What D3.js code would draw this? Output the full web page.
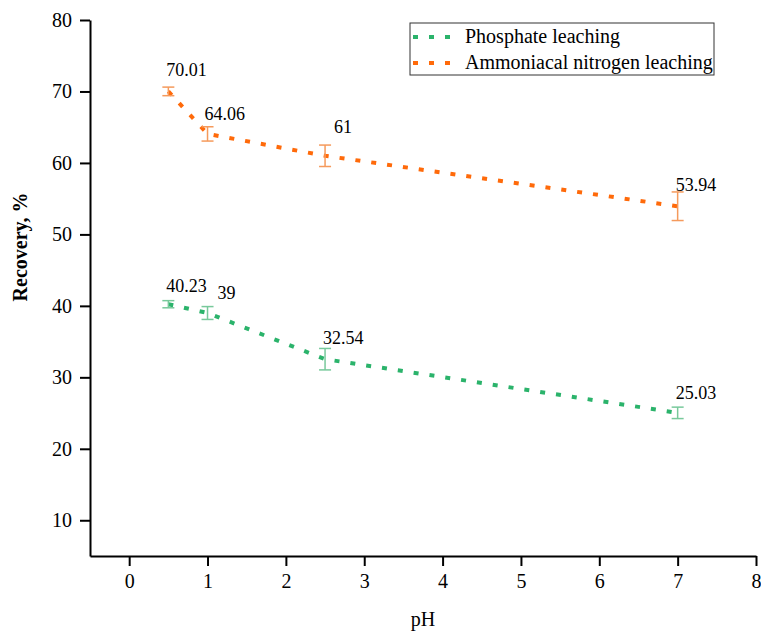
<!DOCTYPE html>
<html>
<head>
<meta charset="utf-8">
<script src="https://cdn.jsdelivr.net/npm/d3@7"></script>
<style>
  html, body { margin: 0; padding: 0; background: #fff; }
  svg, svg text { font-family: "Liberation Serif", "Times New Roman", "DejaVu Serif", serif !important; }
  svg { display: block; }
</style>
</head>
<body>
<svg id="chart" width="761" height="633"></svg>
<script>
// pH values of the leaching runs
const phValues = [0.5, 1, 2.5, 7];

// Recovery (%) for each series, with standard deviations
const phosphate = [40.23, 39, 32.54, 25.03];
const phosphateErr = [0.5, 0.9, 1.5, 0.8];
const ammonia = [70.01, 64.06, 61, 53.94];
const ammoniaErr = [0.6, 1.0, 1.5, 2.0];

const seriesNames = ["Phosphate leaching", "Ammoniacal nitrogen leaching"];

// Axis ticks
const xTicks = [0, 1, 2, 3, 4, 5, 6, 7, 8];
const yTicks = [10, 20, 30, 40, 50, 60, 70, 80];

const svg = d3.select("#chart");
const plotLeft = 90, plotRight = 756, plotTop = 20, plotBottom = 556;

const x = d3.scaleLinear().domain([-0.5, 8]).range([plotLeft, plotRight]);
const y = d3.scaleLinear().domain([5, 80]).range([plotBottom, plotTop]);

const series = [
  { name: seriesNames[0], values: phosphate, err: phosphateErr, color: "#2bb36b", barColor: "#78c99b",
    labelDx: [-2, 10, -2, -2], labelDy: [-12, -14, -15, -14] },
  { name: seriesNames[1], values: ammonia, err: ammoniaErr, color: "#ff6a0a", barColor: "#f59a5c",
    labelDx: [-2, -3, 9, -2], labelDy: [-15, -14, -23, -15] }
];

// Axes with major and minor ticks
const axisColor = "#000";
function minorAxis(axisGen, ticks) {
  return axisGen.tickValues(ticks).tickSize(5).tickFormat("");
}
const xMinor = d3.range(-0.5, 8.01, 0.5);
const yMinor = d3.range(5, 80.01, 5);

const gx = svg.append("g").attr("transform", `translate(0,${plotBottom})`);
gx.call(minorAxis(d3.axisBottom(x), xMinor));
gx.call(d3.axisBottom(x).tickValues(xTicks).tickSize(10).tickSizeOuter(0).tickPadding(8).tickFormat(d3.format("d")));

const gy = svg.append("g").attr("transform", `translate(${plotLeft},0)`);
gy.call(minorAxis(d3.axisLeft(y), yMinor));
gy.call(d3.axisLeft(y).tickValues(yTicks).tickSize(10).tickSizeOuter(0).tickPadding(8).tickFormat(d3.format("d")));

svg.selectAll("g").attr("font-family", null);
svg.selectAll(".domain").attr("stroke", axisColor).attr("stroke-width", 2);
svg.selectAll(".tick line").attr("stroke", axisColor).attr("stroke-width", 2);
svg.selectAll(".tick text").attr("font-size", 20).attr("fill", "#000");

// Axis titles
svg.append("text").attr("x", 423).attr("y", 626).attr("text-anchor", "middle")
  .attr("font-size", 20).text("pH");
svg.append("text").attr("transform", "translate(27,247) rotate(-90)")
  .attr("text-anchor", "middle").attr("font-size", 20).attr("font-weight", "bold")
  .text("Recovery, %");

// Series: dotted connecting lines, error bars, value labels
const line = d3.line()
  .x((d, i) => x(phValues[i])).y(d => y(d));

series.forEach(s => {
  const g = svg.append("g");
  g.append("path").datum(s.values).attr("d", line)
    .attr("fill", "none").attr("stroke", s.color).attr("stroke-width", 4)
    .attr("stroke-linejoin", "round").attr("stroke-dasharray", "5,11");

  s.values.forEach((v, i) => {
    const cx = x(phValues[i]);
    const y0 = y(v - s.err[i]), y1 = y(v + s.err[i]);
    const eb = g.append("g").attr("stroke", s.barColor).attr("stroke-width", 1.5);
    eb.append("line").attr("x1", cx).attr("x2", cx).attr("y1", y0).attr("y2", y1);
    eb.append("line").attr("x1", cx - 6).attr("x2", cx + 6).attr("y1", y0).attr("y2", y0);
    eb.append("line").attr("x1", cx - 6).attr("x2", cx + 6).attr("y1", y1).attr("y2", y1);

    g.append("text").attr("x", cx + s.labelDx[i]).attr("y", y(v) + s.labelDy[i])
      .attr("font-size", 18).attr("fill", "#000").text(String(v));
  });
});

// Legend
const lg = svg.append("g").attr("transform", "translate(410,23)");
lg.append("rect").attr("width", 304).attr("height", 52)
  .attr("fill", "#fff").attr("stroke", "#333").attr("stroke-width", 1);
series.forEach((s, i) => {
  const ly = 14 + i * 26;
  lg.append("line").attr("x1", 3).attr("x2", 42).attr("y1", ly).attr("y2", ly)
    .attr("stroke", s.color).attr("stroke-width", 4).attr("stroke-dasharray", "5,11");
  lg.append("text").attr("x", 55).attr("y", ly + 6).attr("font-size", 20).text(s.name);
});
</script>
</body>
</html>
